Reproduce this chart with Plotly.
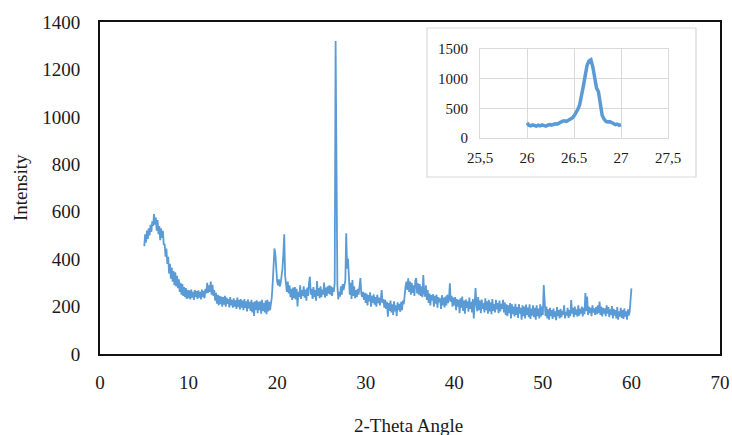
import plotly.graph_objects as go

# ---------------- data ----------------
two_theta_start = 5.0
two_theta_step = 0.1
intensity = [
    455, 505, 470, 520, 485, 530, 500, 545, 515, 560,   # 5
    540, 590, 545, 575, 520, 565, 505, 540, 480, 530,   # 6
    490, 520, 460, 465, 410, 445, 380, 410, 340, 380,   # 7
    318, 365, 305, 350, 290, 345, 285, 330, 278, 315,   # 8
    262, 300, 250, 295, 245, 282, 240, 278, 232, 270,   # 9
    236, 268, 230, 272, 238, 262, 228, 270, 240, 265,   # 10
    232, 268, 238, 262, 230, 272, 240, 266, 235, 275,   # 11
    255, 300, 258, 290, 262, 305, 250, 292, 245, 270,   # 12
    225, 258, 212, 250, 205, 245, 210, 242, 200, 240,   # 13
    208, 245, 200, 238, 212, 232, 196, 240, 205, 228,   # 14
    195, 235, 200, 226, 190, 238, 198, 228, 188, 232,   # 15
    196, 225, 185, 232, 195, 222, 180, 230, 192, 220,   # 16
    182, 228, 175, 218, 160, 222, 186, 226, 172, 220,   # 17
    185, 222, 170, 228, 182, 215, 175, 225, 168, 228,   # 18
    180, 220, 185, 215, 240, 300, 380, 445, 420, 350,   # 19
    305, 290, 315, 284, 300, 330, 360, 420, 505, 330,   # 20
    300, 262, 305, 255, 290, 240, 275, 228, 280, 235,   # 21
    282, 230, 275, 200, 262, 240, 290, 232, 270, 245,   # 22
    285, 238, 272, 225, 280, 245, 300, 326, 250, 275,   # 23
    232, 282, 240, 270, 225, 308, 245, 278, 235, 285,   # 24
    240, 272, 250, 301, 238, 280, 245, 285, 255, 290,   # 25
    250, 285, 245, 280, 262, 300, 1320, 560, 290, 230,  # 26
    262, 242, 285, 250, 295, 270, 300, 310, 509, 360,   # 27
    403, 290, 250, 300, 232, 312, 245, 285, 235, 270,   # 28
    240, 275, 250, 285, 320, 255, 240, 262, 228, 258,   # 29
    215, 255, 205, 248, 222, 260, 200, 245, 215, 252,   # 30
    208, 240, 200, 250, 215, 238, 205, 228, 270, 215,   # 31
    232, 195, 228, 190, 220, 157, 215, 182, 225, 175,   # 32
    210, 165, 222, 180, 205, 160, 218, 185, 212, 178,   # 33
    220, 185, 225, 210, 255, 285, 305, 270, 319, 262,   # 34
    305, 250, 300, 258, 290, 245, 310, 320, 255, 298,   # 35
    250, 295, 245, 285, 240, 333, 260, 242, 290, 228,   # 36
    270, 215, 255, 205, 248, 225, 252, 200, 245, 212,   # 37
    250, 195, 240, 218, 235, 190, 248, 205, 238, 196,   # 38
    242, 205, 250, 215, 232, 298, 220, 245, 200, 238,   # 39
    205, 240, 185, 232, 200, 228, 172, 235, 195, 242,   # 40
    182, 225, 170, 230, 195, 222, 178, 238, 190, 220,   # 41
    175, 232, 150, 228, 278, 205, 180, 240, 185, 225,   # 42
    172, 230, 190, 215, 175, 235, 185, 222, 170, 228,   # 43
    180, 218, 168, 232, 182, 210, 175, 228, 188, 215,   # 44
    172, 225, 180, 212, 190, 228, 175, 218, 165, 210,   # 45
    160, 205, 172, 215, 150, 210, 168, 200, 158, 212,   # 46
    165, 198, 152, 210, 170, 195, 145, 205, 160, 200,   # 47
    150, 208, 165, 196, 155, 210, 148, 192, 162, 205,   # 48
    155, 195, 145, 205, 160, 192, 150, 210, 158, 200,   # 49
    165, 291, 190, 160, 200, 150, 188, 145, 195, 160,   # 50
    185, 148, 192, 155, 180, 143, 198, 160, 185, 150,   # 51
    190, 155, 182, 165, 205, 150, 178, 162, 195, 152,   # 52
    185, 160, 228, 170, 195, 155, 200, 165, 188, 158,   # 53
    205, 162, 190, 170, 200, 158, 195, 168, 257, 180,   # 54
    242, 165, 200, 172, 195, 160, 205, 175, 192, 165,   # 55
    198, 168, 205, 172, 221, 165, 200, 158, 195, 170,   # 56
    192, 160, 205, 170, 198, 155, 188, 165, 202, 150,   # 57
    190, 162, 185, 150, 198, 145, 180, 158, 195, 152,   # 58
    185, 148, 192, 158, 180, 145, 188, 162, 178, 215,   # 59
    277,                                                # 60
]
two_theta = [round(two_theta_start + two_theta_step * i, 1) for i in range(len(intensity))]

inset_theta = [
    26.00, 26.02, 26.04, 26.06, 26.08, 26.10, 26.12, 26.14, 26.16, 26.18,
    26.20, 26.22, 26.24, 26.26, 26.28, 26.30, 26.32, 26.34, 26.36, 26.38,
    26.40, 26.42, 26.44, 26.46, 26.48, 26.50, 26.52, 26.54, 26.56, 26.58,
    26.60, 26.62, 26.64, 26.66, 26.68, 26.70, 26.72, 26.74, 26.76, 26.78,
    26.80, 26.82, 26.84, 26.86, 26.88, 26.90, 26.92, 26.94, 26.96, 26.98,
    27.00,
]
inset_intensity = [
    253, 215, 205, 220, 210, 200, 215, 205, 220, 210,
    200, 215, 225, 215, 230, 240, 235, 255, 275, 285,
    290, 280, 300, 310, 335, 370, 420, 480, 560, 700,
    880, 1060, 1230, 1300, 1320, 1200, 980, 840, 780, 560,
    380, 320, 280, 270, 275, 260, 240, 225, 235, 215,
    225,
]

main_x_ticks = [0, 10, 20, 30, 40, 50, 60, 70]
main_y_ticks = [0, 200, 400, 600, 800, 1000, 1200, 1400]
inset_x_ticks = [25.5, 26.0, 26.5, 27.0, 27.5]
inset_x_labels = ["25,5", "26", "26.5", "27", "27,5"]
inset_y_ticks = [0, 500, 1000, 1500]

LINE = "#5B9BD5"
SERIF = "Liberation Serif, Times New Roman, serif"
TXT = "#1a1a1a"

fig = go.Figure()
fig.add_trace(go.Scatter(x=two_theta, y=intensity, mode="lines",
                         line=dict(color=LINE, width=1.8), xaxis="x", yaxis="y",
                         showlegend=False, hoverinfo="skip"))
fig.add_trace(go.Scatter(x=inset_theta, y=inset_intensity, mode="lines",
                         line=dict(color=LINE, width=3.5), xaxis="x2", yaxis="y2",
                         showlegend=False, hoverinfo="skip"))

W, H = 732, 435
ml, mr, mt, mb = 100, 12, 22, 81
pw, ph = W - ml - mr, H - mt - mb

def px_x(p):
    return (p - ml) / pw

def px_y(p):
    return (H - mb - p) / ph

fig.update_layout(
    width=W, height=H,
    margin=dict(l=ml, r=mr, t=mt, b=mb, autoexpand=False),
    paper_bgcolor="white", plot_bgcolor="white",
    font=dict(family=SERIF, color=TXT, size=19),
    xaxis=dict(range=[0, 70], tickvals=main_x_ticks, showgrid=False, zeroline=False,
               showline=True, mirror=True, linecolor="#111111", linewidth=1.8,
               ticks="outside", ticklen=10, tickcolor="rgba(0,0,0,0)",
               tickfont=dict(size=19, color=TXT), automargin=False),
    yaxis=dict(range=[0, 1400], tickvals=main_y_ticks, showgrid=False, zeroline=False,
               showline=True, mirror=True, linecolor="#111111", linewidth=1.8,
               ticks="outside", ticklen=14, tickcolor="rgba(0,0,0,0)",
               tickfont=dict(size=19, color=TXT), automargin=False),
    xaxis2=dict(domain=[px_x(480), px_x(668)], anchor="y2", range=[25.5, 27.5],
                tickvals=inset_x_ticks, ticktext=inset_x_labels,
                showgrid=True, gridcolor="#d9d9d9", gridwidth=1, zeroline=False,
                showline=True, mirror=True, linecolor="#d9d9d9", linewidth=1,
                ticks="outside", ticklen=6, tickcolor="rgba(0,0,0,0)",
                tickfont=dict(size=15, color=TXT), automargin=False),
    yaxis2=dict(domain=[px_y(138), px_y(49)], anchor="x2", range=[0, 1500],
                tickvals=inset_y_ticks,
                showgrid=True, gridcolor="#d9d9d9", gridwidth=1, zeroline=False,
                showline=True, mirror=True, linecolor="#d9d9d9", linewidth=1,
                ticks="outside", ticklen=8, tickcolor="rgba(0,0,0,0)",
                tickfont=dict(size=15, color=TXT), automargin=False),
    shapes=[dict(type="rect", xref="paper", yref="paper",
                 x0=px_x(427), x1=px_x(696), y0=px_y(177), y1=px_y(28),
                 line=dict(color="#d9d9d9", width=1.2), fillcolor="white",
                 layer="below")],
    annotations=[
        dict(text="2-Theta Angle", xref="paper", yref="paper",
             x=px_x(408), y=px_y(425), xanchor="center", yanchor="middle",
             showarrow=False, font=dict(size=19, color=TXT)),
        dict(text="Intensity", xref="paper", yref="paper",
             x=px_x(20), y=px_y(188), xanchor="center", yanchor="middle",
             textangle=-90, showarrow=False, font=dict(size=19, color=TXT)),
    ],
)

fig.write_html("out.html",
               config={"displayModeBar": False},
               post_script="document.body.style.margin='0';document.body.style.overflow='hidden';")
